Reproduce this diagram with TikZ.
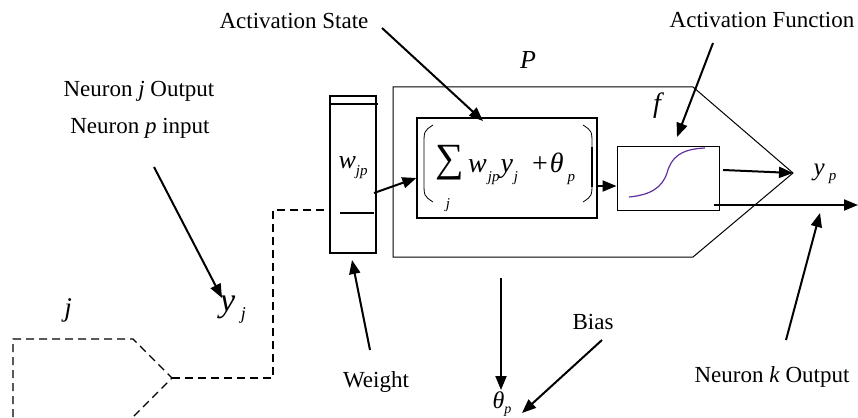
\documentclass[tikz,border=0pt]{standalone}
\usepackage{fontspec}
\setmainfont{Liberation Serif}
\usetikzlibrary{arrows.meta}
\definecolor{sigcol}{RGB}{96,48,160}
\newcommand{\subtxt}[1]{\raisebox{-9pt}{\fontsize{15}{16}\selectfont\textit{#1}}}
\begin{document}
\begin{tikzpicture}[x=1pt,y=-1pt,
  lbl/.style={font=\fontsize{23}{27}\selectfont, inner sep=0pt},
  thin/.style={line width=1pt},
  boxline/.style={draw, line width=1.3pt, inner sep=0pt},
  arr/.style={line width=2pt, -{Triangle[length=14pt,width=11pt]}},
  dsh/.style={line width=1.3pt, dash pattern=on 8pt off 5pt}]
\useasboundingbox (0,0) rectangle (858,417);

% texts
\node[lbl] (actstate) at (294,21) {Activation State};
\node[lbl] (actfunc) at (762,20) {Activation Function};
\node[lbl] (nj) at (139,91) {Neuron \textit{j} Output};
\node[lbl] (np) at (140,128) {Neuron \textit{p} input};
\node[lbl] (weight) at (376,382) {Weight};
\node[lbl] (bias) at (593,322) {Bias};
\node[lbl] (nk) at (772,377) {Neuron \textit{k} Output};
\node[lbl, font=\fontsize{26}{30}\selectfont\itshape] (Plbl) at (528,60) {P};
\node[lbl, font=\fontsize{28}{30}\selectfont\itshape] (flbl) at (657,106) {f};
\node[lbl, font=\fontsize{27}{30}\selectfont\itshape] (jlbl) at (68,310) {j};
\node[lbl, font=\fontsize{34}{36}\selectfont] (yj) at (233,310) {\textit{y}\,{\fontsize{18}{20}\selectfont\raisebox{-8pt}{\textit{j}}}};
\node[lbl, font=\fontsize{25}{28}\selectfont] (yp) at (825,174) {\textit{y}\,{\fontsize{15}{18}\selectfont\raisebox{-5pt}{\textit{p}}}};
\node[lbl, font=\fontsize{24}{26}\selectfont] (thp) at (502,404) {\textit{θ}\raisebox{-5pt}{\fontsize{14}{16}\selectfont\textit{p}}};

% weight box
\node[boxline, minimum width=46pt, minimum height=157pt] (wbox) at (353,174.5) {};
\draw[line width=2pt] (330,104) -- (378,104);
\draw[line width=1.3pt] (340,213) -- (374,213);
\node[lbl, font=\fontsize{26}{28}\selectfont] (wjp) at (353,168) {\textit{w}\raisebox{-7pt}{\fontsize{15}{16}\selectfont\textit{jp}}};

% outer P shape
\draw[thin] (393,87) coordinate (Pa) -- (693,87) -- (793,173) coordinate (Ptip) -- (693,257) -- (393,257) -- cycle;

% sum box
\node[boxline, minimum width=180pt, minimum height=100pt] (sbox) at (507,168) {};
% formula
\node[lbl, font=\fontsize{40}{42}\selectfont] (sumsign) at (450,163) {∑};
\node[lbl, font=\fontsize{15}{16}\selectfont\itshape] (sumj) at (448,205) {j};
\node[lbl, font=\fontsize{28}{30}\selectfont, anchor=base west] (frow) at (468,172)
  {\textit{w}\hspace{1pt}\subtxt{jp}\hspace{1pt}\textit{y}\hspace{1pt}\subtxt{j}\hspace{14pt}+\hspace{2pt}\textit{θ}\hspace{4pt}\subtxt{p}};
\draw[line width=0.8pt] (433,125) .. controls (424,131) .. (424,145) -- (424,182) .. controls (424,196) .. (433,202);
\draw[line width=0.8pt] (583,125) .. controls (592,131) .. (592,145) -- (592,182) .. controls (592,196) .. (583,202);
\draw[line width=2pt] (592,147) -- (592,187);

% sigmoid box
\node[draw, thin, minimum width=102pt, minimum height=64pt, inner sep=0pt] (fbox) at (668,178) {};
\draw[sigcol, line width=1.2pt] (629,197) .. controls (650,195) and (662,188) .. (667,173)
   .. controls (671,158) and (680,149) .. (705,148);

% neuron j dashed
\draw[dsh] (13,417) -- (13,339) -- (133,339) -- (172,378) coordinate (jtip) -- (133,417);
\draw[dsh] (jtip) -- (273,378) -- (273,210) -- (wbox.west |- 0,210);

% connectors
\coordinate (a1s) at (374,193);
\coordinate (a1e) at (418,178);
\draw[arr] (a1s) -- (sbox.west |- a1e);
\draw[arr] (sbox.east |- 0,186) -- (fbox.west |- 0,186);
\draw[arr] (723,170) -- (Ptip);
\coordinate (outend) at (858,205);
\draw[arr] (714,205) -- (outend);

% annotation arrows
\draw[arr] (382,28) -- (483,121);
\draw[arr] (713,43) -- (677,137);
\draw[arr] (154,167) -- (222,298);
\draw[arr] (370,350) -- (352,260);
\draw[arr] (786,340) -- (820,213);
\draw[arr] (602,340) -- (522,413);
\draw[arr] (501,278) -- (501,390);
\end{tikzpicture}
\end{document}
